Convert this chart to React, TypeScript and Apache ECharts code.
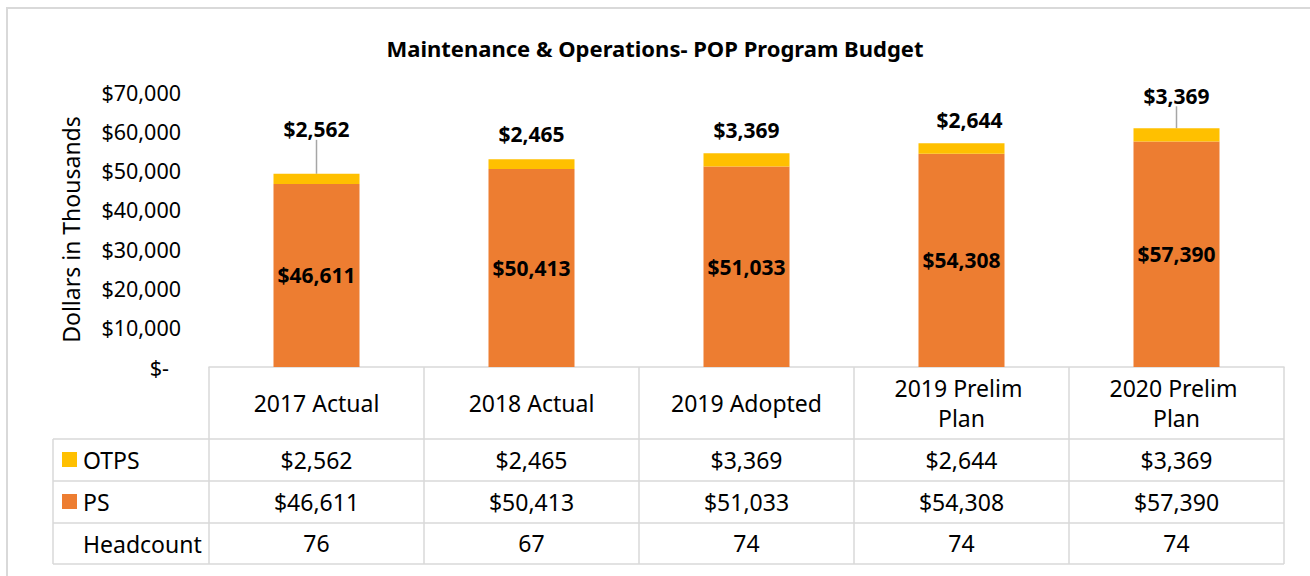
import React, { useEffect, useRef } from 'react';
import * as echarts from 'echarts';

const title = 'Maintenance & Operations- POP Program Budget';
const categories = ['2017 Actual', '2018 Actual', '2019 Adopted', '2019 Prelim Plan', '2020 Prelim Plan'];
const otps = [2562, 2465, 3369, 2644, 3369];
const ps = [46611, 50413, 51033, 54308, 57390];
const headcount = [76, 67, 74, 74, 74];
const rowNames = ['OTPS', 'PS', 'Headcount'];
const yAxisName = 'Dollars in Thousands';

// label placement tweaks (styling only)
const otpsLabelShift = [[0, -29], [0, -10], [0, -8], [8, -8], [0, -17]];
const otpsLeader = [true, false, false, false, true];

const FONT = 'Noto Sans';
const GRAY = '#d9d9d9';
const ORANGE = '#ED7D31';
const YELLOW = '#FFC000';
const TABLE_FS = 23;

const money = (v: number) => (v === 0 ? '$-' : '$' + v.toLocaleString('en-US'));

export default function App() {
  const ref = useRef<HTMLDivElement>(null);
  useEffect(() => {
    document.body.style.margin = '0';
    const chart = echarts.init(ref.current!, null, { renderer: 'svg' });
    const rowAxis = (offset: number, fmt: (i: number) => string) => ({
      type: 'category',
      data: categories,
      position: 'bottom',
      offset,
      axisLine: { show: false },
      axisTick: { show: false },
      axisLabel: {
        interval: 0,
        margin: 0,
        verticalAlign: 'middle',
        fontFamily: FONT,
        fontSize: TABLE_FS,
        color: '#000',
        formatter: (_v: string, i: number) => fmt(i),
      },
    });
    const lineStyle = { stroke: GRAY, lineWidth: 1.5 };
    chart.setOption({
      animation: false,
      textStyle: { fontFamily: FONT },
      title: {
        text: title,
        left: 'center',
        top: 32,
        textStyle: { fontFamily: FONT, fontSize: 22, fontWeight: 'bold', color: '#000' },
      },
      grid: { left: 209, right: 26, top: 92, bottom: 209 },
      xAxis: [
        {
          type: 'category',
          data: categories,
          axisLine: { lineStyle: { color: GRAY, width: 1.5 } },
          axisTick: { show: true, length: 197, lineStyle: { color: GRAY, width: 1.5 } },
          axisLabel: {
            interval: 0,
            margin: 36,
            verticalAlign: 'middle',
            lineHeight: 30,
            width: 165,
            overflow: 'break',
            align: 'center',
            fontFamily: FONT,
            fontSize: TABLE_FS,
            color: '#000',
          },
        },
        rowAxis(93, (i) => money(otps[i])),
        rowAxis(135, (i) => money(ps[i])),
        rowAxis(176, (i) => String(headcount[i])),
      ],
      yAxis: {
        type: 'value',
        min: 0,
        max: 70000,
        interval: 10000,
        name: yAxisName,
        nameLocation: 'middle',
        nameGap: 127,
        nameTextStyle: { fontFamily: FONT, fontSize: 23, color: '#000' },
        axisLine: { show: false },
        axisTick: { show: false },
        splitLine: { show: false },
        axisLabel: {
          margin: 28,
          fontFamily: FONT,
          fontSize: 21.5,
          color: '#000',
          formatter: (v: number) => (v === 0 ? '{z|$-}' : money(v)),
          rich: { z: { fontFamily: FONT, fontSize: 21.5, color: '#000', padding: [0, 12, 0, 0] } },
        },
      },
      series: [
        {
          name: 'PS',
          type: 'bar',
          stack: 'total',
          barWidth: '40%',
          itemStyle: { color: ORANGE },
          label: {
            show: true,
            position: 'inside',
            fontFamily: FONT,
            fontSize: 21,
            fontWeight: 'bold',
            color: '#000',
            formatter: (p: any) => money(p.value),
          },
          data: ps,
        },
        {
          name: 'OTPS',
          type: 'bar',
          stack: 'total',
          barWidth: '40%',
          itemStyle: { color: YELLOW },
          label: {
            show: true,
            position: 'top',
            distance: 5,
            fontFamily: FONT,
            fontSize: 21,
            fontWeight: 'bold',
            color: '#000',
            formatter: (p: any) => money(p.value),
          },
          labelLine: { show: false, lineStyle: { color: '#a6a6a6', width: 1.5 } },
          labelLayout: (p: any) => ({ dx: otpsLabelShift[p.dataIndex][0], dy: otpsLabelShift[p.dataIndex][1] }),
          data: otps.map((v, i) => ({
            value: v,
            labelLine: { show: otpsLeader[i], lineStyle: { color: '#a6a6a6', width: 1.5 } },
          })),
        },
      ],
      graphic: [
        { type: 'rect', shape: { x: 7, y: 8, width: 1400, height: 700 }, style: { fill: 'none', stroke: GRAY, lineWidth: 2 }, silent: true },
        { type: 'line', shape: { x1: 53, y1: 439, x2: 1284, y2: 439 }, style: lineStyle },
        { type: 'line', shape: { x1: 53, y1: 481, x2: 1284, y2: 481 }, style: lineStyle },
        { type: 'line', shape: { x1: 53, y1: 523, x2: 1284, y2: 523 }, style: lineStyle },
        { type: 'line', shape: { x1: 53, y1: 564, x2: 1284, y2: 564 }, style: lineStyle },
        { type: 'line', shape: { x1: 53, y1: 439, x2: 53, y2: 564 }, style: lineStyle },
        { type: 'rect', shape: { x: 62, y: 452, width: 15, height: 15 }, style: { fill: YELLOW } },
        { type: 'rect', shape: { x: 62, y: 494, width: 15, height: 15 }, style: { fill: ORANGE } },
        ...rowNames.map((n, i) => ({
          type: 'text',
          x: 83,
          y: 460 + i * 42,
          style: { text: n, fontFamily: FONT, fontSize: TABLE_FS, fill: '#000', textVerticalAlign: 'middle', verticalAlign: 'middle' },
        })),
      ],
    });
    return () => chart.dispose();
  }, []);
  return <div ref={ref} style={{ width: 1310, height: 576 }} />;
}
